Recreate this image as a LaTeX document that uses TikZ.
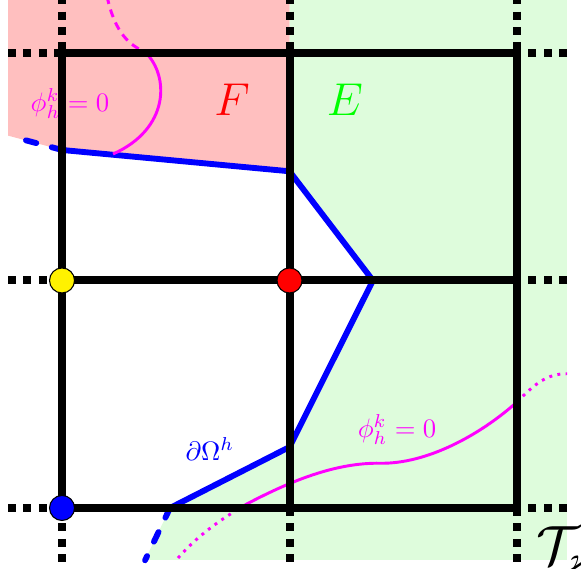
\documentclass[tikz,border=0pt]{standalone}
\usepackage{amssymb}
\begin{document}
\begin{tikzpicture}[
    gridline/.style={line width=3pt},
    gridext/.style={line width=3pt, dash pattern=on 3pt off 2.8pt},
    vertexdot/.style={circle, draw=black, thin, minimum size=0.33cm, inner sep=0pt},
    boundary/.style={blue, line width=2.2pt},
    boundaryext/.style={blue, line width=2.2pt, line cap=round, dash pattern=on 4pt off 6pt},
    levelset/.style={lsmag, line width=1.1pt}
]

% Colors
\definecolor{cellF}{RGB}{255,191,191}
\definecolor{cellE}{RGB}{222,252,220}
\definecolor{lsmag}{RGB}{255,0,255}
\definecolor{egreen}{RGB}{0,255,0}

\useasboundingbox (-0.818,-0.804) rectangle (6.844,6.699);

% Boundary points
\coordinate (b0) at (-0.633,4.89);
\coordinate (b1) at (0,4.721);
\coordinate (b2) at (3,4.44);
\coordinate (b3) at (4.1,3);
\coordinate (b4) at (3,0.804);
\coordinate (b5) at (1.424,0);
\coordinate (b6) at (1.095,-0.69);

% Cells
\fill[cellF] (-0.712,6.75) -- (3,6.75) -- (b2) -- (b1) -- (-0.712,4.91) -- cycle;
\fill[cellE] (3,6.75) -- (6.659,6.75) -- (6.659,-0.686) -- (1.095,-0.686)
    -- (b5) -- (b4) -- (b3) -- (b2) -- cycle;

% Boundary
\draw[boundary, line join=round] (b1) -- (b2) -- (b3) -- (b4) -- (b5);
\draw[boundaryext] (b1) -- (b0);
\draw[boundaryext] (b5) -- (b6);

% Level sets
\coordinate (la) at (1.095,6.013);
\coordinate (lb) at (0.673,4.668);
\draw[levelset, dash pattern=on 3pt off 2.2pt] (0.593,6.75) .. controls (0.7,6.25) and (0.9,6.1) .. (la);
\draw[levelset] (la) .. controls (1.42,5.7) and (1.42,5.0) .. (lb);

\coordinate (lc) at (2.413,0.04);
\coordinate (ld) at (4.2,0.59);
\coordinate (le) at (6,1.398);
\draw[levelset, dash pattern=on 1.1pt off 2pt] (1.53,-0.66) .. controls (1.8,-0.35) and (2.1,-0.15) .. (lc);
\draw[levelset] (lc) .. controls (3.0,0.35) and (3.6,0.6) .. (ld)
    .. controls (4.8,0.58) and (5.5,0.95) .. (le);
\draw[levelset, dash pattern=on 1.1pt off 2pt] (le) .. controls (6.25,1.65) and (6.4,1.77) .. (6.66,1.77);

% Grid
\foreach \x in {0,3,6} {
  \draw[gridext] (\x,6.75) -- (\x,6);
  \draw[gridext] (\x,0) -- (\x,-0.85);
}
\foreach \y in {0,3,6} {
  \draw[gridext] (-0.712,\y) -- (0,\y);
  \draw[gridext] (6.66,\y) -- (6,\y);
}
\draw[gridline, step=3] (0,0) grid (6,6);

% Vertices
\node[vertexdot, fill=yellow] (yellowpt) at (0,3) {};
\node[vertexdot, fill=red] (redpt) at (3,3) {};
\node[vertexdot, fill=blue] (bluept) at (0,0) {};

% Labels
\node[lsmag] (phileft) at (0.105,5.33) {$\phi_h^k=0$};
\node[lsmag] (phiright) at (4.418,1.03) {$\phi_h^k=0$};
\node[red, font=\LARGE] (flabel) at (2.242,5.38) {$F$};
\node[egreen, font=\LARGE] (elabel) at (3.732,5.38) {$E$};
\node[blue] (omegalabel) at (1.95,0.78) {$\partial\Omega^h$};
\node[anchor=base west, inner sep=0pt, font=\huge] (tlabel) at (6.25,-0.74) {$\mathcal{T}_\varkappa$};

\end{tikzpicture}
\end{document}
